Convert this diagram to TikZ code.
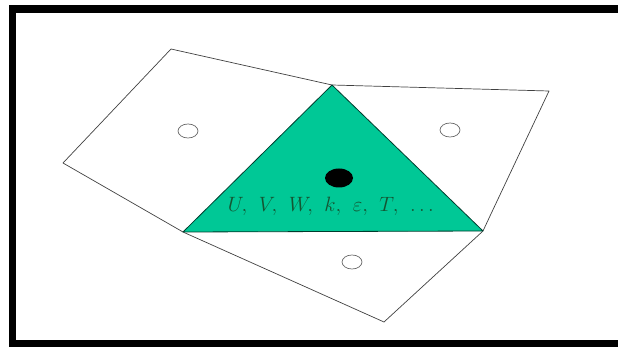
\documentclass[tikz,border=0pt]{standalone}
\usetikzlibrary{shapes.geometric}

\definecolor{cellfill}{RGB}{0,200,150}
\definecolor{valtext}{RGB}{20,85,50}

\begin{document}
\begin{tikzpicture}[
  x=1pt, y=-1pt,
  edge/.style={draw=black!75, line width=0.7pt, line join=round},
  tri/.style={fill=cellfill, draw=black!70!cellfill, line width=0.8pt, line join=round},
  nbr/.style={ellipse, draw=black!60, line width=0.7pt, inner sep=0pt, minimum width=20pt, minimum height=14pt},
  ctr/.style={ellipse, fill=black, inner sep=0pt, minimum width=28pt, minimum height=19pt},
  vals/.style={text=valtext, font=\fontsize{20}{22}\selectfont, inner sep=0pt}
]
\useasboundingbox (0,0) rectangle (618,347);
% frame
\fill[black] (9,5) rectangle (618,13);
\fill[black] (9,5) rectangle (16,347);
\fill[black] (9,340) rectangle (618,347);
% vertices
\coordinate (a) at (332,85);
\coordinate (b) at (183,232);
\coordinate (c) at (483,231);
\coordinate (l1) at (171,49);
\coordinate (l2) at (63,163);
\coordinate (r1) at (549,91);
\coordinate (rk) at (490,216);
\coordinate (d) at (384,322);
% neighbour cells
\draw[edge] (a) -- (l1) -- (l2) -- (b);
\draw[edge] (a) -- (r1) -- (rk) -- (c);
\draw[edge] (b) -- (d) -- (c);
% centre cell
\filldraw[tri] (a) -- (b) -- (c) -- cycle;
\node[nbr] (nl) at (188,131) {};
\node[nbr] (nr) at (450,130) {};
\node[nbr] (nb) at (352,262) {};
\node[ctr] (p) at (339,178) {};
\node[vals] (v) at (331,206) {$U,\hspace{8pt}V,\hspace{8pt}W,\hspace{8pt}k,\hspace{8pt}\varepsilon,\hspace{8pt}T,\hspace{8pt}\ldots$};
\end{tikzpicture}
\end{document}
